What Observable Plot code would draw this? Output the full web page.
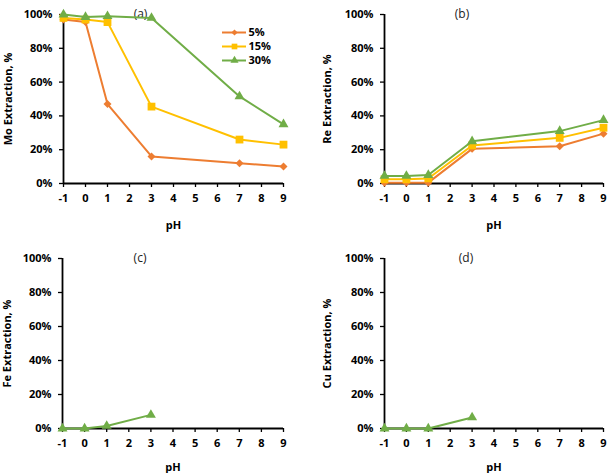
<!DOCTYPE html>
<html>
<head>
<meta charset="utf-8">
<script src="https://cdn.jsdelivr.net/npm/d3@7"></script>
<script src="https://cdn.jsdelivr.net/npm/@observablehq/plot@0.6"></script>
<style>
  html, body { margin: 0; padding: 0; background: #fff; }
  #figure { position: relative; width: 614px; height: 473px; }
  #figure > svg, #figure > figure { position: absolute; margin: 0; }
</style>
</head>
<body>
<div id="figure"></div>
<script>
// pH values tested and x-axis ticks
const pH = [-1, 0, 1, 3, 7, 9];
const pHTicks = [-1, 0, 1, 2, 3, 4, 5, 6, 7, 8, 9];
const yTicks = [0, 0.2, 0.4, 0.6, 0.8, 1.0];

// Acid concentrations (series)
const series = ["5%", "15%", "30%"];

// Mo extraction (fraction)
const mo5 = [0.97, 0.955, 0.47, 0.16, 0.12, 0.10];
const mo15 = [0.98, 0.97, 0.955, 0.455, 0.26, 0.23];
const mo30 = [1.00, 0.985, 0.99, 0.98, 0.515, 0.35];

// Re extraction (fraction)
const re5 = [0.005, 0.005, 0.005, 0.205, 0.22, 0.295];
const re15 = [0.025, 0.025, 0.03, 0.225, 0.27, 0.33];
const re30 = [0.045, 0.045, 0.05, 0.25, 0.31, 0.375];

// Fe and Cu extraction, 30% only, pH -1 to 3
const fe30 = [0.0, 0.0, 0.015, 0.08];
const cu30 = [0.0, 0.0, 0.0, 0.065];

// styling
const colors = ["#ED7D31", "#FFC000", "#70AD47"];
const symbols = ["diamond2", "square", "triangle"];
const symbolR = [3.6, 4.4, 3.7];
const legendR = [2.8, 3.2, 3.0];
const font = "'Open Sans', Lato, sans-serif";
const pHFormat = d => (d < 0 ? "-" + Math.abs(d) : String(d));
const textStyle = {fontFamily: font, fontSize: "11px", fontWeight: "bold", color: "#000",
  background: "transparent", overflow: "visible"};

function rows(values, name) {
  return values.map((v, i) => ({pH: pH[i], value: v, series: name}));
}

function panel({data, label, tag, tagDx, left, top, width, height, margin}) {
  const marks = [
    Plot.axisX({ticks: pHTicks, tickFormat: pHFormat, tickSize: 4, tickPadding: 7, label: "pH",
      labelArrow: "none", labelAnchor: "center", labelOffset: margin.labelX, stroke: "#000", strokeWidth: 1.3}),
    Plot.axisY({ticks: yTicks, tickSize: 4, tickPadding: 7, tickFormat: d3.format(".0%"),
      label, labelArrow: "none", labelAnchor: "center", labelOffset: margin.labelY, stroke: "#000", strokeWidth: 1.3}),
    Plot.ruleY([0], {stroke: "#000", strokeWidth: 1.8}),
    Plot.ruleX([-1], {stroke: "#000", strokeWidth: 1.8}),
    Plot.text([tag], {frameAnchor: "top", dx: tagDx, lineAnchor: "middle",
      fontSize: 12, fontWeight: "normal", fill: "#222"})
  ];
  series.forEach((s, i) => {
    const d = data.filter(r => r.series === s);
    if (!d.length) return;
    marks.push(Plot.line(d, {x: "pH", y: "value", stroke: colors[i], strokeWidth: 2}));
    marks.push(Plot.dot(d, {x: "pH", y: "value", fill: colors[i], symbol: symbols[i], r: symbolR[i], stroke: "none"}));
  });
  const svg = Plot.plot({
    width, height,
    marginLeft: margin.left, marginRight: margin.right,
    marginTop: margin.top, marginBottom: margin.bottom,
    x: {domain: [-1, 9]},
    y: {domain: [0, 1]},
    style: textStyle,
    marks
  });
  svg.style.left = left + "px";
  svg.style.top = top + "px";
  document.getElementById("figure").appendChild(svg);
}

const topMargin = {left: 63, right: 24, top: 14, bottom: 53, labelY: 59, labelX: 45};
const topMarginR = {left: 77, right: 11, top: 14, bottom: 53, labelY: 61, labelX: 45};
const botMargin = {left: 62, right: 24, top: 22, bottom: 45, labelY: 59, labelX: 42};
const botMarginR = {left: 77, right: 11, top: 22, bottom: 45, labelY: 61, labelX: 42};

panel({data: [...rows(mo5, "5%"), ...rows(mo15, "15%"), ...rows(mo30, "30%")],
  label: "Mo Extraction, %", tag: "(a)", tagDx: -33, left: 0, top: 0, width: 307, height: 236, margin: topMargin});
panel({data: [...rows(re5, "5%"), ...rows(re15, "15%"), ...rows(re30, "30%")],
  label: "Re Extraction, %", tag: "(b)", tagDx: -32, left: 307, top: 0, width: 307, height: 236, margin: topMarginR});
panel({data: rows(fe30, "30%"),
  label: "Fe Extraction, %", tag: "(c)", tagDx: -33, left: 0, top: 236, width: 307, height: 237, margin: botMargin});
panel({data: rows(cu30, "30%"),
  label: "Cu Extraction, %", tag: "(d)", tagDx: -28, left: 307, top: 236, width: 307, height: 237, margin: botMarginR});

// Legend for panel (a): a small plot with one row per series
const legend = Plot.plot({
  width: 74, height: 64,
  marginLeft: 2, marginRight: 48, marginTop: 0, marginBottom: 0,
  x: {domain: [0, 1], axis: null},
  y: {type: "point", domain: series, range: [11, 53], axis: null},
  style: textStyle,
  marks: [
    ...series.map((s, i) => Plot.ruleY([s], {y: d => d, x1: 0, x2: 1, stroke: colors[i], strokeWidth: 2})),
    ...series.map((s, i) => Plot.dot([s], {y: d => d, fill: colors[i], symbol: symbols[i], r: legendR[i]})),
    Plot.text(series, {y: d => d, text: d => d, frameAnchor: "right", textAnchor: "start", dx: 2, fill: "#000"})
  ]
});
legend.style.left = "220px";
legend.style.top = "14px";
document.getElementById("figure").appendChild(legend);
</script>
</body>
</html>
